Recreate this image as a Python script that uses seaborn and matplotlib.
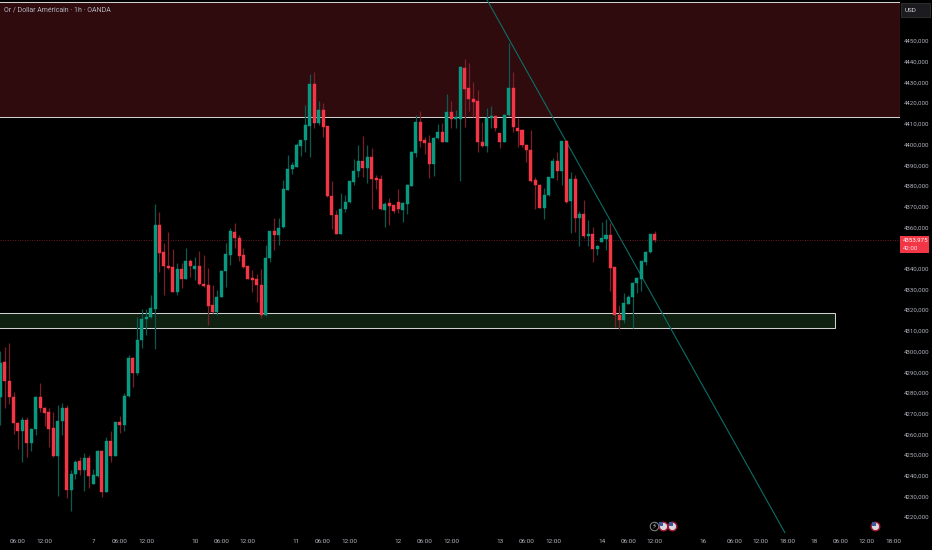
# Gold / USD 1h candlestick chart, dark TradingView look
import matplotlib
matplotlib.use("Agg")  # headless plotting
import matplotlib.pyplot as plt
from matplotlib.patches import Rectangle
import pandas as pd
import seaborn as sns

# ---- Data ----
opens = [4277.8, 4294.7, 4285.9, 4278.1, 4265.3, 4261.6, 4266.9, 4255.6, 4262.5, 4277.8,
         4272.5, 4270.6, 4262.9, 4249.5, 4266.5, 4272.5, 4233.1, 4240.8, 4246.9, 4242.7,
         4248.4, 4236.0, 4240.0, 4252.1, 4232.3, 4256.6, 4249.6, 4265.7, 4264.5, 4278.3,
         4297.0, 4289.7, 4305.7, 4315.5, 4316.5, 4320.7, 4361.1, 4347.9, 4341.3, 4340.7,
         4328.8, 4339.8, 4335.2, 4343.9, 4339.8, 4341.3, 4332.8, 4332.0, 4322.3, 4319.2,
         4326.3, 4338.9, 4346.8, 4357.7, 4355.0, 4346.6, 4341.1, 4335.3, 4334.8, 4332.1,
         4317.6, 4345.0, 4358.0, 4356.1, 4360.0, 4378.2, 4388.0, 4389.3, 4399.4, 4402.2,
         4409.0, 4429.4, 4410.2, 4416.5, 4408.8, 4375.1, 4365.9, 4356.9, 4368.7, 4372.2,
         4382.0, 4387.3, 4392.2, 4388.8, 4393.9, 4383.8, 4383.2, 4368.5, 4371.6, 4370.6,
         4372.0, 4368.5, 4371.4, 4380.1, 4396.0, 4410.9, 4402.0, 4400.7, 4390.6, 4403.1,
         4406.0, 4401.4, 4415.7, 4412.5, 4412.5, 4437.1, 4427.1, 4422.0, 4421.0, 4401.2,
         4399.1, 4412.9, 4413.8, 4405.4, 4401.4, 4414.1, 4427.4, 4408.1, 4407.0, 4399.9,
         4397.5, 4382.8, 4380.6, 4369.5, 4375.6, 4384.0, 4391.9, 4387.2, 4401.7, 4372.7,
         4383.3, 4364.6, 4366.6, 4355.6, 4356.6, 4349.5, 4352.7, 4354.3, 4356.1, 4340.8,
         4317.6, 4315.2, 4323.1, 4326.3, 4333.1, 4335.2, 4343.4, 4347.9, 4356.9]
highs = [4300.4, 4302.3, 4303.9, 4280.6, 4266.1, 4268.2, 4268.2, 4262.8, 4278.5, 4284.6,
         4273.3, 4272.8, 4270.6, 4274.0, 4274.9, 4274.0, 4242.7, 4247.5, 4249.2, 4251.1,
         4250.0, 4243.0, 4252.4, 4252.4, 4258.8, 4261.7, 4266.1, 4268.8, 4280.1, 4298.3,
         4297.2, 4316.5, 4320.3, 4320.3, 4327.3, 4371.2, 4367.5, 4352.6, 4357.9, 4349.3,
         4342.6, 4342.6, 4350.1, 4344.8, 4345.8, 4348.7, 4346.6, 4340.2, 4332.1, 4329.7,
         4339.4, 4352.2, 4359.5, 4361.9, 4356.3, 4349.8, 4341.3, 4339.4, 4337.4, 4339.8,
         4351.4, 4358.3, 4364.3, 4364.6, 4382.8, 4394.9, 4391.7, 4400.5, 4402.2, 4419.1,
         4434.0, 4434.8, 4421.2, 4420.2, 4409.1, 4382.3, 4368.3, 4376.4, 4375.6, 4382.5,
         4392.8, 4399.7, 4404.1, 4399.7, 4398.5, 4385.3, 4385.3, 4372.4, 4374.0, 4370.8,
         4378.3, 4372.4, 4380.7, 4397.0, 4414.2, 4416.2, 4403.4, 4404.6, 4403.8, 4409.7,
         4410.2, 4424.4, 4421.0, 4416.7, 4437.9, 4441.1, 4439.2, 4430.0, 4426.3, 4411.0,
         4417.8, 4418.6, 4413.9, 4405.7, 4414.5, 4449.2, 4435.2, 4412.6, 4407.3, 4400.0,
         4407.0, 4384.4, 4380.9, 4378.8, 4384.4, 4393.3, 4396.5, 4401.7, 4402.2, 4386.8,
         4385.2, 4368.0, 4373.2, 4363.5, 4360.3, 4351.4, 4362.7, 4364.0, 4361.9, 4340.8,
         4322.4, 4328.1, 4327.3, 4333.7, 4336.1, 4343.9, 4348.5, 4356.9, 4358.3]
lows = [4264.5, 4272.5, 4274.6, 4260.1, 4252.7, 4246.7, 4249.2, 4252.1, 4259.6, 4270.7,
        4264.1, 4253.7, 4249.2, 4230.2, 4259.6, 4229.0, 4223.1, 4238.2, 4240.3, 4232.7,
        4234.2, 4236.0, 4239.5, 4229.5, 4231.9, 4246.7, 4249.6, 4260.4, 4261.7, 4278.1,
        4282.7, 4288.6, 4301.8, 4307.9, 4316.0, 4301.0, 4338.6, 4327.3, 4339.8, 4328.6,
        4327.4, 4330.5, 4334.8, 4336.1, 4334.5, 4332.1, 4331.0, 4312.8, 4318.4, 4317.6,
        4326.1, 4331.3, 4341.8, 4349.8, 4343.7, 4340.2, 4334.8, 4328.9, 4323.8, 4316.3,
        4317.1, 4343.1, 4349.0, 4351.4, 4359.8, 4378.0, 4385.7, 4389.0, 4394.4, 4396.5,
        4393.8, 4407.8, 4409.4, 4403.4, 4374.8, 4359.0, 4356.6, 4356.7, 4367.5, 4371.9,
        4380.4, 4384.4, 4384.4, 4381.2, 4368.8, 4378.3, 4368.3, 4360.3, 4361.1, 4367.1,
        4367.1, 4362.7, 4366.4, 4379.9, 4394.1, 4398.6, 4395.4, 4383.6, 4384.9, 4402.6,
        4401.0, 4401.0, 4407.8, 4407.8, 4382.5, 4408.6, 4416.3, 4413.4, 4396.2, 4398.9,
        4396.2, 4407.8, 4406.5, 4398.3, 4401.0, 4413.8, 4406.2, 4398.9, 4398.9, 4391.4,
        4382.0, 4368.7, 4369.2, 4363.8, 4375.3, 4383.6, 4382.8, 4380.4, 4371.6, 4357.0,
        4357.5, 4351.1, 4355.0, 4350.9, 4343.4, 4346.6, 4352.7, 4349.0, 4329.2, 4312.0,
        4310.8, 4313.6, 4322.8, 4311.2, 4328.1, 4329.4, 4341.8, 4347.4, 4353.0]
closes = [4294.6, 4285.9, 4278.1, 4265.3, 4261.6, 4266.9, 4255.6, 4262.4, 4278.1, 4272.7,
          4270.4, 4262.7, 4249.5, 4266.5, 4272.5, 4233.1, 4240.9, 4246.7, 4242.7, 4248.4,
          4240.0, 4240.3, 4252.1, 4232.3, 4256.6, 4249.6, 4265.7, 4264.5, 4278.5, 4297.0,
          4289.7, 4305.7, 4315.7, 4316.6, 4320.8, 4361.1, 4347.7, 4341.3, 4340.5, 4328.9,
          4339.7, 4335.2, 4343.7, 4341.3, 4341.3, 4332.6, 4331.6, 4322.1, 4319.1, 4326.1,
          4339.0, 4347.1, 4358.0, 4355.0, 4346.0, 4340.8, 4335.2, 4334.5, 4332.1, 4317.6,
          4345.0, 4358.0, 4356.1, 4359.8, 4378.3, 4388.1, 4389.9, 4399.6, 4402.2, 4409.2,
          4429.4, 4410.5, 4416.5, 4408.6, 4375.1, 4365.9, 4356.9, 4368.8, 4372.2, 4382.2,
          4387.3, 4392.2, 4388.8, 4393.9, 4383.5, 4383.0, 4368.7, 4371.3, 4370.3, 4367.9,
          4368.7, 4371.6, 4380.3, 4396.2, 4410.9, 4401.8, 4400.9, 4390.7, 4403.3, 4406.0,
          4401.4, 4415.7, 4412.5, 4413.1, 4437.3, 4426.8, 4422.0, 4420.7, 4401.2, 4399.1,
          4412.9, 4413.8, 4408.0, 4401.4, 4414.2, 4427.4, 4408.3, 4406.7, 4399.7, 4397.5,
          4382.5, 4380.6, 4369.5, 4375.6, 4384.1, 4392.0, 4387.3, 4401.7, 4372.4, 4383.3,
          4364.6, 4366.6, 4355.6, 4356.6, 4349.5, 4351.1, 4354.6, 4356.1, 4340.5, 4317.6,
          4315.2, 4323.4, 4326.5, 4333.2, 4335.3, 4343.5, 4348.0, 4356.9, 4354.0]

# 4350 sits under the last price box in the reference, so it gets no label
y_ticks = [4220, 4230, 4240, 4250, 4260, 4270, 4280, 4290, 4300, 4310, 4320, 4330,
           4340, 4360, 4370, 4380, 4390, 4400, 4410, 4420, 4430, 4440, 4450]
x_ticks = [4, 10, 21, 27, 33, 44, 50, 56, 67, 73, 79, 90, 96, 102, 113, 119, 125,
           136, 142, 148, 159, 166, 172, 178, 184, 190, 196, 202]
x_labels = ["06:00", "12:00", "7", "06:00", "12:00", "10", "06:00", "12:00",
            "11", "06:00", "12:00", "12", "06:00", "12:00", "13", "06:00", "12:00",
            "14", "06:00", "12:00", "16", "06:00", "12:00", "18:00", "18", "06:00",
            "12:00", "18:00"]

resistance = [4413.3, 4468.8]
support = [4311.2, 4318.4]
trend_x = [110.1, 177.5]
trend_y = [4469.8, 4212.3]
last_price = 4353.975
flag_x = [149.9, 152.0, 197.9]
event_y = 4215.9
bolt_x = 147.9

# ---- Styling ----
GREEN, RED = "#089981", "#f23645"
GREEN_WICK, RED_WICK = "#0b5a4f", "#7a1f28"
GREY = "#b2b5be"
X_MIN, X_MAX = -0.07, 203.5
Y_MIN, Y_MAX = 4212.3, 4469.8

sns.set_theme(style="dark", rc={"axes.facecolor": "black", "figure.facecolor": "black"})
plt.rcParams["font.family"] = ["Roboto", "DejaVu Sans"]

df = pd.DataFrame({"bar": range(len(opens)), "open": opens, "high": highs,
                   "low": lows, "close": closes})
df["up"] = df["close"] >= df["open"]
df["bottom"] = df[["open", "close"]].min(axis=1)
df["body"] = (df["close"] - df["open"]).abs()

fig = plt.figure(figsize=(9.32, 5.5), dpi=100)
ax = fig.add_axes([0, 17 / 550, 900 / 932, 533 / 550])

# ---- Zones, trend line, last price ----
ax.add_patch(Rectangle((-1, resistance[0]), X_MAX + 1, resistance[1] - resistance[0],
                       facecolor="#2f0b0e", edgecolor="#cfcfcf", lw=0.75, zorder=1))
ax.add_patch(Rectangle((-1, support[0]), 188.8 + 1, support[1] - support[0],
                       facecolor="#0f1f10", edgecolor="#cfcfcf", lw=0.75, zorder=1))
sns.lineplot(x=trend_x, y=trend_y, color="#0b6e68", lw=0.8, ax=ax, zorder=2)
ax.axhline(last_price, color="#6e1a22", lw=0.7, ls=(0, (1, 1.5)), zorder=2)

# ---- Candles ----
for up, wick_color, body_color in [(True, GREEN_WICK, GREEN), (False, RED_WICK, RED)]:
    part = df[df["up"] == up]
    ax.vlines(part["bar"], part["low"], part["high"], color=wick_color, lw=0.9, zorder=3)
    sns.barplot(data=part, x="bar", y="body", bottom=part["bottom"].values,
                native_scale=True, width=0.68, color=body_color, saturation=1,
                errorbar=None, edgecolor=body_color, linewidth=0.3, ax=ax, zorder=4)

# ---- Event icons on the time scale ----
sns.scatterplot(x=flag_x, y=[event_y] * len(flag_x), s=38, color="#d8d8e4",
                edgecolor="#a3182a", linewidth=1.0, ax=ax, zorder=5, clip_on=False)
sns.scatterplot(x=[v - 0.35 for v in flag_x], y=[event_y + 0.8] * len(flag_x), s=8,
                color="#3c5a9a", marker="s", linewidth=0, ax=ax, zorder=6)
sns.scatterplot(x=[bolt_x], y=[event_y], s=38, color="black", edgecolor="#8a8a8a",
                linewidth=0.7, ax=ax, zorder=5)
ax.text(bolt_x, event_y, "\u26a1", color="#b0b0b0", fontsize=5.5, ha="center",
        va="center", family=["DejaVu Sans"], zorder=6)

# ---- Axes ----
ax.set_xlim(X_MIN, X_MAX)
ax.set_ylim(Y_MIN, Y_MAX)
ax.set_xlabel("")
ax.set_ylabel("")
ax.grid(False)
for side in ax.spines:
    ax.spines[side].set_visible(False)
ax.yaxis.tick_right()
ax.set_yticks(y_ticks)
ax.set_yticklabels([f"{v},000" for v in y_ticks], color=GREY, fontsize=4.4)
ax.set_xticks(x_ticks)
ax.set_xticklabels(x_labels, color=GREY, fontsize=4.6)
ax.tick_params(axis="both", length=0, pad=4)
ax.tick_params(axis="y", pad=2.9)

ax.text(4 / 900, 1 - 10 / 533, "Or / Dollar Américain · 1h · OANDA", color=GREY,
        fontsize=5, transform=ax.transAxes, va="center", zorder=7)

# ---- Price scale boxes, placed in figure pixels ----
def px_box(x0, y0, x1, y1, **kw):
    fig.add_artist(Rectangle((x0 / 932, 1 - y1 / 550), (x1 - x0) / 932, (y1 - y0) / 550,
                             transform=fig.transFigure, **kw))

px_box(901, 3, 930, 17, facecolor="#1c1c1e", edgecolor="#333336", lw=0.6)
fig.text(911 / 932, 1 - 10 / 550, "USD", color="#d1d4dc", fontsize=4.6, ha="center", va="center")
px_box(900, 236, 929, 253, facecolor=RED, edgecolor="none")
fig.text(903 / 932, 1 - 240.5 / 550, "4353,975", color="white", fontsize=4.4, va="center")
fig.text(903 / 932, 1 - 248.8 / 550, "42:00", color="#ffe0e3", fontsize=4.4, va="center")

fig.savefig("out.png", dpi=100, facecolor="black")
